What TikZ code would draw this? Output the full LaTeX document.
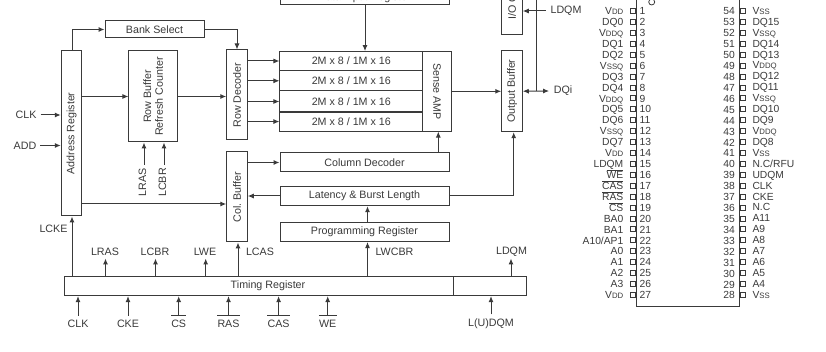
\documentclass[tikz,border=0pt]{standalone}
\usepackage{fontspec}
\setmainfont{Liberation Sans}
\usetikzlibrary{arrows.meta}
\definecolor{ink}{HTML}{3A3A3A}
\frenchspacing
\newcommand{\barred}[1]{\leavevmode\vbox{\hrule height .6pt\kern .7pt\hbox{#1}}}
\newcommand{\subcap}[2]{#1{\fontsize{7.8}{8}\selectfont #2}}
\newcommand{\rup}[1]{\rotatebox{90}{#1}}
\tikzset{
  txt/.style={font=\fontsize{10.7}{12}\selectfont, text=ink},
  lab/.style={txt, inner sep=0pt},
  pinlab/.style={font=\fontsize{10.3}{12}\selectfont, text=ink, inner sep=0pt},
  box/.style={txt, draw=ink, line width=1pt, fill=white, inner sep=0pt, align=center},
  wire/.style={draw=ink, line width=1pt},
  arr/.style={wire, -{Latex[length=6pt,width=5pt]}},
  darr/.style={wire, {Latex[length=6pt,width=5pt]}-{Latex[length=6pt,width=5pt]}},
  pinbox/.style={draw=ink, line width=0.8pt, minimum width=5pt, minimum height=5pt, inner sep=0pt}
}
\begin{document}
\begin{tikzpicture}[x=1pt,y=-1pt]
\useasboundingbox (0,0) rectangle (826,352);
\clip (0,0) rectangle (826,352);
% blocks
\node[box,minimum width=99pt,minimum height=17pt] (bank) at (154.5,29.5) {Bank Select};
\node[box,minimum width=20.5pt,minimum height=165pt] (addr) at (71.5,133.5) {\rup{Address Register}};
\node[box,minimum width=48.5pt,minimum height=91pt] (rowbuf) at (153.2,96.5) {\rup{\shortstack{Row Buffer\\[1pt]Refresh Counter}}};
\node[box,minimum width=20.5pt,minimum height=90pt] (rowdec) at (237,95) {\rup{Row Decoder}};
\node[box,minimum width=20.5pt,minimum height=90pt] (colbuf) at (237,197) {\rup{Col. Buffer}};
\node[box,minimum width=169pt,minimum height=14pt] (datain) at (364.5,-2.5) {Data Input Register};
\node[box,minimum width=142.7pt,minimum height=18.8pt] (row1) at (351.3,61) {2M x 8 / 1M x 16};
\node[box,minimum width=142.7pt,minimum height=21pt] (row2) at (351.3,80.8) {2M x 8 / 1M x 16};
\node[box,minimum width=142.7pt,minimum height=21pt] (row3) at (351.3,101.5) {2M x 8 / 1M x 16};
\node[box,minimum width=142.7pt,minimum height=19pt] (row4) at (351.3,121.55) {2M x 8 / 1M x 16};
\node[box,minimum width=28.6pt,minimum height=79.45pt] (sense) at (437,91.3) {\rotatebox{-90}{Sense AMP}};
\node[box,minimum width=20.5pt,minimum height=82pt] (io) at (512,-6.5) {\rup{I/O Control}};
\node[box,minimum width=20.5pt,minimum height=81pt] (outbuf) at (512,91.2) {\rup{Output Buffer}};
\node[box,minimum width=169pt,minimum height=19pt] (coldec) at (364.5,162.5) {Column Decoder};
\node[box,minimum width=169pt,minimum height=19.5pt] (latency) at (364.5,196) {Latency \& Burst Length};
\node[box,minimum width=169pt,minimum height=19.5pt] (prog) at (364.5,231.8) {Programming Register};
\node[box,minimum width=390pt,minimum height=18.8pt] (timing) at (259,286.2) {\hspace*{18pt}Timing Register};
\node[box,minimum width=72.5pt,minimum height=18.8pt] (timingb) at (490.2,286.2) {};
% labels
\node[lab] (clkL) at (26,115) {CLK};
\node[lab] (addL) at (25,145.5) {ADD};
\node[lab] (lras) at (142.5,182.5) {\rup{LRAS}};
\node[lab] (lcbr) at (162.5,182.5) {\rup{LCBR}};
\node[lab] (lcke) at (53.5,229) {LCKE};
\node[lab] (lrasT) at (105,252) {LRAS};
\node[lab] (lcbrT) at (155,252) {LCBR};
\node[lab] (lweT) at (205,252) {LWE};
\node[lab] (lcasT) at (260,252) {LCAS};
\node[lab] (lwcbr) at (394.5,252) {LWCBR};
\node[lab] (ldqmT) at (511.5,252) {LDQM};
\node[lab] (ldqmR) at (566,11) {LDQM};
\node[lab] (dqi) at (563,91) {DQi};
\node[lab] (clkB) at (78,324) {CLK};
\node[lab] (ckeB) at (128,324) {CKE};
\node[lab] (csB) at (178.7,324) {CS};
\node[lab] (rasB) at (228.5,324) {RAS};
\node[lab] (casB) at (278.6,324) {CAS};
\node[lab] (weB) at (327.7,324) {WE};
\node[lab] (ludqm) at (491,324) {L(U)DQM};
% connectors
\coordinate (addrTop) at (72,51);
\draw[arr] (addrTop) |- (bank.west);
\draw[arr] (bank.east) -| (rowdec.north);
\draw[arr] (addr.east |- rowbuf.west) -- (rowbuf.west);
\draw[arr] (rowbuf.east) -- (rowbuf.east -| rowdec.west);
\foreach \r in {row1,row2,row3,row4}
  \draw[arr] (rowdec.east |- \r.west) -- (\r.west);
\draw[arr] (colbuf.east |- coldec.west) -- (coldec.west);
\draw[arr] (latency.west) -- (latency.west -| colbuf.east);
\coordinate (acb) at (71,204);
\draw[arr] (addr.east |- acb) -- (colbuf.west |- acb);
\coordinate (dA) at (365,4.5);
\draw[arr] (dA) -- (dA |- row1.north);
\coordinate (csa) at (438.3,153);
\draw[arr] (csa) -- (csa |- sense.south);
\draw[arr] (sense.east) -- (sense.east -| outbuf.west);
\coordinate (lat) at (513.7,196);
\draw[wire] (latency.east) -- (lat);
\draw[arr] (lat) -- (lat |- outbuf.south);
\draw[darr] (outbuf.east) -- ([xshift=-4.5pt]dqi.west);
\coordinate (dqj) at (536.7,91.2);
\coordinate (dqt) at (536.7,-2);
\draw[wire] (dqj) -- (dqt);
\draw[arr] ([xshift=-4.5pt]ldqmR.west) -- (ldqmR.west -| io.east);
\draw[arr] ([xshift=4pt]clkL.east) -- (clkL.east -| addr.west);
\draw[arr] ([xshift=4pt]addL.east) -- (addL.east -| addr.west);
\coordinate (a1) at (144,165);
\coordinate (a2) at (164,165);
\draw[arr] (a1) -- (a1 |- rowbuf.south);
\draw[arr] (a2) -- (a2 |- rowbuf.south);
\coordinate (t1) at (72,277);
\draw[arr] (t1) -- (addr.south -| t1);
\foreach \x in {105.5,155.5,205.7,511}
  \draw[arr] (\x,277) -- (\x,258.5);
\coordinate (t2) at (238,277);
\draw[arr] (t2) -- (t2 |- colbuf.south);
\coordinate (t3) at (367.5,277);
\draw[arr] (t3) -- (t3 |- prog.south);
\draw[arr] (t3 |- prog.north) -- (t3 |- latency.south);
\foreach \n in {clkB,ckeB,ludqm}
  \draw[arr] ([yshift=4.5pt]\n.north) -- (\n.north |- timing.south);
\foreach \n in {csB,rasB,casB,weB}{
  \draw[arr] ([yshift=4.5pt]\n.north) -- (\n.north |- timing.south);
  \draw[wire,line width=1pt] ([yshift=4.5pt]\n.north west) -- ([yshift=4.5pt]\n.north east);
}
% chip package
\coordinate (chipTL) at (636,-3);
\coordinate (chipBR) at (739,306.7);
\draw[wire] (chipTL) -- (chipTL |- chipBR) -- (chipBR) -- (chipBR |- chipTL);
\draw[wire,line width=0.8pt] (651.7,2) circle (3pt);
\foreach \i/\t in {1/\subcap{V}{DD},2/DQ0,3/\subcap{V}{DDQ},4/DQ1,5/DQ2,6/\subcap{V}{SSQ},7/DQ3,8/DQ4,9/\subcap{V}{DDQ},10/DQ5,11/DQ6,12/\subcap{V}{SSQ},13/DQ7,14/\subcap{V}{DD},15/LDQM,16/\barred{WE},17/\barred{CAS},18/\barred{RAS},19/\barred{CS},20/BA0,21/BA1,22/{A10/AP1},23/A0,24/A1,25/A2,26/A3,27/\subcap{V}{DD}}{
  \pgfmathsetmacro{\yy}{11+(\i-1)*10.92}
  \node[pinbox] (lp\i) at (632.8,\yy) {};
  \node[pinlab,anchor=base east] (ln\i) at (623.5,\yy+3.7) {\t};
  \node[pinlab,anchor=base west] (ld\i) at (639.5,\yy+3.7) {\i};
}
\foreach \i/\t in {54/\subcap{V}{SS},53/DQ15,52/\subcap{V}{SSQ},51/DQ14,50/DQ13,49/\subcap{V}{DDQ},48/DQ12,47/DQ11,46/\subcap{V}{SSQ},45/DQ10,44/DQ9,43/\subcap{V}{DDQ},42/DQ8,41/\subcap{V}{SS},40/{N.C/RFU},39/UDQM,38/CLK,37/CKE,36/N.C,35/A11,34/A9,33/A8,32/A7,31/A6,30/A5,29/A4,28/\subcap{V}{SS}}{
  \pgfmathsetmacro{\yy}{11+(54-\i)*10.92}
  \node[pinbox] (rp\i) at (742.5,\yy) {};
  \node[pinlab,anchor=base east] (rd\i) at (735,\yy+4) {\i};
  \node[pinlab,anchor=base west] (rn\i) at (752.3,\yy+3.4) {\t};
}
\end{tikzpicture}
\end{document}
